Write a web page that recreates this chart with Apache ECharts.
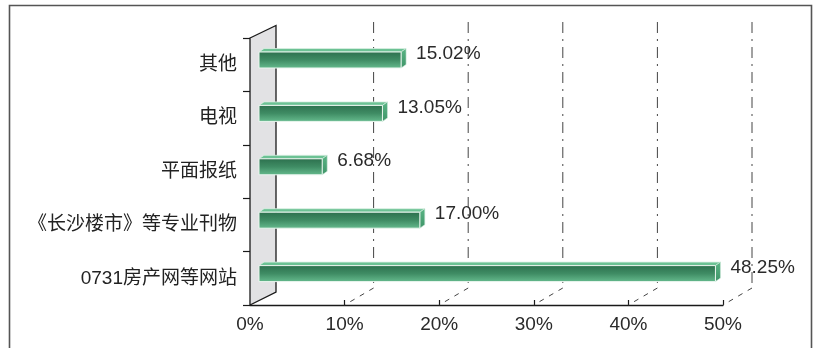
<!DOCTYPE html>
<html>
<head>
<meta charset="utf-8">
<script src="https://cdn.jsdelivr.net/npm/echarts@6/dist/echarts.min.js"></script>
<style>
html,body{margin:0;padding:0;background:#fff;}
#chart{width:813px;height:348px;}
</style>
</head>
<body>
<div id="chart"></div>
<script>
const categories = ['其他', '电视', '平面报纸', '《长沙楼市》等专业刊物', '0731房产网等网站'];
const values = [15.02, 13.05, 6.68, 17.00, 48.25];
const valueLabels = ['15.02%', '13.05%', '6.68%', '17.00%', '48.25%'];
const gridTicks = [10, 20, 30, 40, 50];

const FONT = '"Liberation Sans", "Noto Sans CJK SC", sans-serif';
const chart = echarts.init(document.getElementById('chart'), null, {renderer: 'canvas'});

function wallItem(params, api) {
  if (params.dataIndex !== 0) return null;
  const cs = params.coordSys;
  const x = cs.x, top = cs.y, bottom = cs.y + cs.height;
  return {
    type: 'polygon',
    shape: {points: [[x, top], [x + 26, top - 12.5], [x + 26, bottom - 13], [x, bottom]]},
    style: {fill: '#e2e2e4', stroke: '#1a1a1a', lineWidth: 1.3}
  };
}

function gridItem(params, api) {
  const cs = params.coordSys;
  const p = api.coord([api.value(0), 0]);
  const dx = 29, dyT = -16, dyB = -17;
  const x = p[0] + dx;
  const bottom = cs.y + cs.height;
  return {
    type: 'group',
    children: [
      {type: 'line', shape: {x1: x, y1: cs.y + dyT, x2: x, y2: bottom + dyB},
       style: {stroke: '#444', lineWidth: 1, lineDash: [11, 6, 2, 6]}},
      {type: 'line', shape: {x1: x, y1: bottom + dyB, x2: p[0], y2: bottom},
       style: {stroke: '#444', lineWidth: 1, lineDash: [5, 6]}}
    ]
  };
}

function barItem(params, api) {
  const idx = api.value(1);
  const p0 = api.coord([0, idx]);
  const p1 = api.coord([api.value(0), idx]);
  const ox = 9, oy = -4.7, h = 16, dx = 5, dy = -3.5;
  const x0 = p0[0] + ox, x1 = p1[0] + ox;
  const yc = p0[1] + oy;
  const y0 = yc - h / 2, y1 = yc + h / 2;
  return {
    type: 'group',
    children: [
      {type: 'polygon', shape: {points: [[x0, y0], [x0 + dx, y0 + dy], [x1 + dx, y0 + dy], [x1, y0]]},
       style: {fill: '#6cc294', stroke: '#d9efe2', lineWidth: 0.8}},
      {type: 'polygon', shape: {points: [[x1, y0], [x1 + dx, y0 + dy], [x1 + dx, y1 + dy], [x1, y1]]},
       style: {fill: new echarts.graphic.LinearGradient(0, 0, 0, 1, [
         {offset: 0, color: '#5ab585'}, {offset: 1, color: '#3f9468'}]), stroke: '#cfe9da', lineWidth: 0.6}},
      {type: 'rect', shape: {x: x0, y: y0, width: x1 - x0, height: h},
       style: {fill: new echarts.graphic.LinearGradient(0, 0, 0, 1, [
         {offset: 0, color: '#2c6f4d'}, {offset: 0.5, color: '#3f8c64'}, {offset: 1, color: '#66bb8e'}]),
         stroke: '#eaf6ef', lineWidth: 1}},
      {type: 'text', x: x1 + 15, y: yc - 6,
       style: {text: valueLabels[params.dataIndex], fill: '#2a2a2a', font: '19px ' + FONT,
               verticalAlign: 'middle', align: 'left'}}
    ]
  };
}

const option = {
  animation: false,
  backgroundColor: '#fff',
  textStyle: {fontFamily: FONT},
  grid: {left: 250, right: 90, top: 38, bottom: 43, containLabel: false},
  xAxis: {
    type: 'value', min: 0, max: 50, interval: 10,
    axisLine: {show: true, lineStyle: {color: '#1a1a1a', width: 1.3}},
    axisTick: {show: true, inside: true, length: 5, lineStyle: {color: '#1a1a1a', width: 1.2}},
    axisLabel: {formatter: '{value}%', fontSize: 19, color: '#2a2a2a', margin: 10, fontFamily: FONT},
    splitLine: {show: false}
  },
  yAxis: {
    type: 'category', inverse: true, data: categories,
    axisLine: {show: false},
    axisTick: {show: true, length: 7, lineStyle: {color: '#1a1a1a', width: 1.2}},
    axisLabel: {fontSize: 19, color: '#222', margin: 13, padding: [0, 0, 12, 0], fontFamily: FONT},
    splitLine: {show: false}
  },
  graphic: [{
    type: 'rect', shape: {x: 9.5, y: 5.5, width: 802, height: 400},
    style: {fill: 'none', stroke: '#555', lineWidth: 1.6}, z: 100
  }],
  series: [
    {type: 'custom', z: 1, renderItem: wallItem, data: [[0, 0]], silent: true},
    {type: 'custom', z: 2, renderItem: gridItem, data: gridTicks.map(v => [v]), encode: {x: 0}, silent: true},
    {type: 'custom', z: 3, renderItem: barItem, data: values.map((v, i) => [v, i]), encode: {x: 0, y: 1}}
  ]
};
chart.setOption(option);
</script>
</body>
</html>
